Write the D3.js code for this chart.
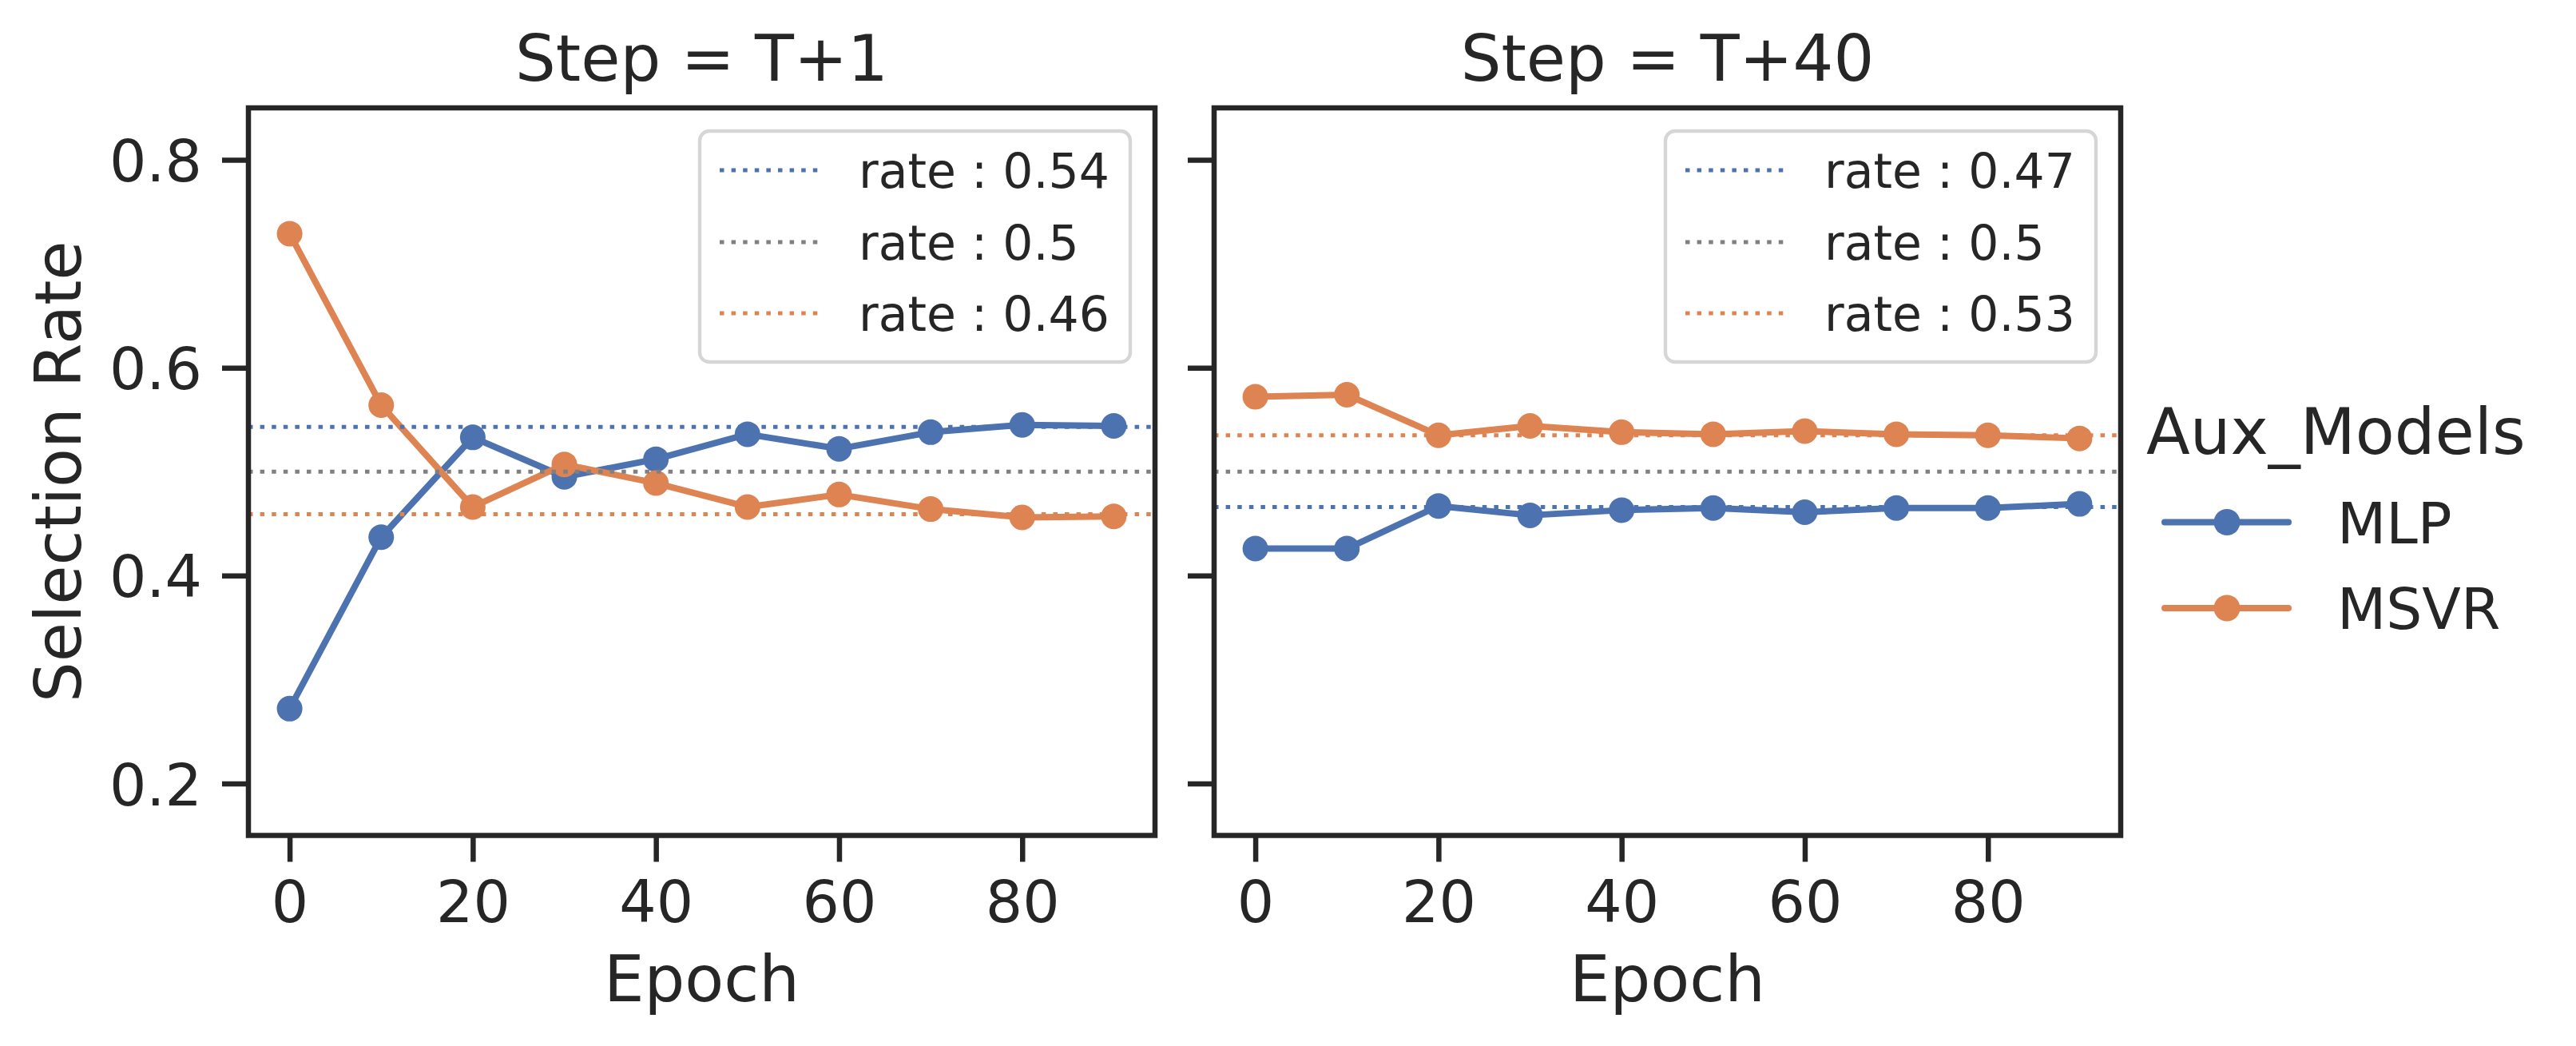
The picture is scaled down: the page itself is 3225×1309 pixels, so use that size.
<!DOCTYPE html>
<html>
<head>
<meta charset="utf-8">
<script src="https://cdn.jsdelivr.net/npm/d3@7"></script>
<style>
  html, body { margin: 0; padding: 0; background: #ffffff; }
  svg { display: block; font-family: "DejaVu Sans", sans-serif; }
</style>
</head>
<body>
<svg id="chart" width="3225" height="1309"></svg>
<script>
// ---------------- data ----------------
const epochs = [0, 10, 20, 30, 40, 50, 60, 70, 80, 90];
const stepTitles = ["Step = T+1", "Step = T+40"];
const models = ["MLP", "MSVR"];

const mlpT1  = [0.272, 0.437, 0.533, 0.495, 0.512, 0.536, 0.522, 0.538, 0.545, 0.544];
const msvrT1 = [0.729, 0.564, 0.466, 0.507, 0.489, 0.466, 0.478, 0.464, 0.456, 0.457];
const mlpT40  = [0.426, 0.426, 0.467, 0.458, 0.463, 0.465, 0.461, 0.465, 0.465, 0.469];
const msvrT40 = [0.572, 0.574, 0.535, 0.544, 0.538, 0.536, 0.539, 0.536, 0.535, 0.532];

const rateValuesT1  = [0.543, 0.5, 0.459];
const rateLabelsT1  = ["0.54", "0.5", "0.46"];
const rateValuesT40 = [0.466, 0.5, 0.535];
const rateLabelsT40 = ["0.47", "0.5", "0.53"];

const yTicks = [0.2, 0.4, 0.6, 0.8];
const xTicks = [0, 20, 40, 60, 80];
const legendTitle = "Aux_Models";
const xLabel = "Epoch";
const yLabel = "Selection Rate";

// ---------------- styling ----------------
const BLUE = "#4c72b0", ORANGE = "#dd8452", GRAY = "#808080", INK = "#262626";
const modelColors = [BLUE, ORANGE];
const rateColors = [BLUE, GRAY, ORANGE];

const panels = [
  { title: stepTitles[0], series: [mlpT1, msvrT1], rates: rateValuesT1, rateLabels: rateLabelsT1, left: 311 },
  { title: stepTitles[1], series: [mlpT40, msvrT40], rates: rateValuesT40, rateLabels: rateLabelsT40, left: 1520 }
];
const panelW = 1135, plotTop = 135, plotBottom = 1045.5;

const svg = d3.select("#chart");
const y = d3.scaleLinear().domain([0.15, 0.85]).range([plotBottom, plotTop]);

const TICK_FS = 73, LABEL_FS = 80, LEG_FS = 60, FIGLEG_FS = 71;
const DOT = "5.5,9.1";

panels.forEach((p, pi) => {
  const x = d3.scaleLinear().domain([-4.5, 94.5]).range([p.left, p.left + panelW]);
  const g = svg.append("g");

  // data lines
  const line = d3.line().x((d, i) => x(epochs[i])).y(d => y(d));
  p.series.forEach((s, si) => {
    g.append("path").datum(s).attr("d", line)
      .attr("fill", "none").attr("stroke", modelColors[si])
      .attr("stroke-width", 8).attr("stroke-linejoin", "round").attr("stroke-linecap", "round");
    g.selectAll(null).data(s).enter().append("circle")
      .attr("cx", (d, i) => x(epochs[i])).attr("cy", d => y(d)).attr("r", 16)
      .attr("fill", modelColors[si]);
  });

  // rate reference lines
  p.rates.forEach((r, ri) => {
    g.append("line")
      .attr("x1", p.left).attr("x2", p.left + panelW)
      .attr("y1", y(r)).attr("y2", y(r))
      .attr("stroke", rateColors[ri]).attr("stroke-width", 5)
      .attr("stroke-dasharray", DOT);
  });

  // axes
  const ax = g.append("g").attr("transform", `translate(${p.left},0)`)
    .call(d3.axisLeft(y).tickValues(yTicks).tickSize(33).tickPadding(25)
      .tickFormat(pi === 0 ? d3.format(".1f") : () => ""));
  ax.select(".domain").remove();
  ax.selectAll(".tick line").attr("stroke", INK).attr("stroke-width", 6.5);
  ax.selectAll(".tick text").attr("fill", INK).attr("font-size", TICK_FS)
    .attr("font-family", "DejaVu Sans").attr("dy", "0.3645em");

  const bx = g.append("g").attr("transform", `translate(0,${plotBottom})`)
    .call(d3.axisBottom(x).tickValues(xTicks).tickSize(33).tickPadding(23.7).tickFormat(d3.format("d")));
  bx.select(".domain").remove();
  bx.selectAll(".tick line").attr("stroke", INK).attr("stroke-width", 6.5);
  bx.selectAll(".tick text").attr("fill", INK).attr("font-size", TICK_FS)
    .attr("font-family", "DejaVu Sans");

  // spines
  g.append("rect").attr("x", p.left).attr("y", plotTop).attr("width", panelW).attr("height", plotBottom - plotTop)
    .attr("fill", "none").attr("stroke", INK).attr("stroke-width", 6.5).attr("stroke-linejoin", "miter");

  // title & x label
  g.append("text").attr("x", p.left + panelW / 2).attr("y", 101)
    .attr("text-anchor", "middle").attr("font-size", LABEL_FS).attr("fill", INK).text(p.title);
  g.append("text").attr("x", p.left + panelW / 2).attr("y", 1253)
    .attr("text-anchor", "middle").attr("font-size", LABEL_FS).attr("fill", INK).text(xLabel);

  // inner legend
  const lw = 539, lh = 289;
  const lx = p.left + panelW - 31 - lw, ly = plotTop + 29;
  const lg = g.append("g");
  lg.append("rect").attr("x", lx).attr("y", ly).attr("width", lw).attr("height", lh)
    .attr("rx", 12).attr("ry", 12)
    .attr("fill", "#ffffff").attr("fill-opacity", 0.8)
    .attr("stroke", "#d6d6d6").attr("stroke-width", 4.4);
  const rowY = [49, 139, 228];
  p.rateLabels.forEach((lab, ri) => {
    lg.append("line").attr("x1", lx + 25).attr("x2", lx + 149)
      .attr("y1", ly + rowY[ri]).attr("y2", ly + rowY[ri])
      .attr("stroke", rateColors[ri]).attr("stroke-width", 5).attr("stroke-dasharray", DOT);
    lg.append("text").attr("x", lx + 199).attr("y", ly + rowY[ri] + 22)
      .attr("font-size", LEG_FS).attr("fill", INK).text("rate : " + lab);
  });
});

// y label
svg.append("text").attr("transform", `translate(101,${(plotTop + plotBottom) / 2}) rotate(-90)`)
  .attr("text-anchor", "middle").attr("font-size", LABEL_FS).attr("fill", INK).text(yLabel);

// figure legend
const fl = svg.append("g");
fl.append("text").attr("x", 2687).attr("y", 568).attr("font-size", LABEL_FS).attr("fill", INK).text(legendTitle);
const legRows = [653.5, 761];
models.forEach((m, mi) => {
  fl.append("line").attr("x1", 2710).attr("x2", 2865).attr("y1", legRows[mi]).attr("y2", legRows[mi])
    .attr("stroke", modelColors[mi]).attr("stroke-width", 8).attr("stroke-linecap", "round");
  fl.append("circle").attr("cx", 2788).attr("cy", legRows[mi]).attr("r", 16.5).attr("fill", modelColors[mi]);
  fl.append("text").attr("x", 2926).attr("y", legRows[mi] + 26).attr("font-size", FIGLEG_FS).attr("fill", INK).text(m);
});
</script>
</body>
</html>
